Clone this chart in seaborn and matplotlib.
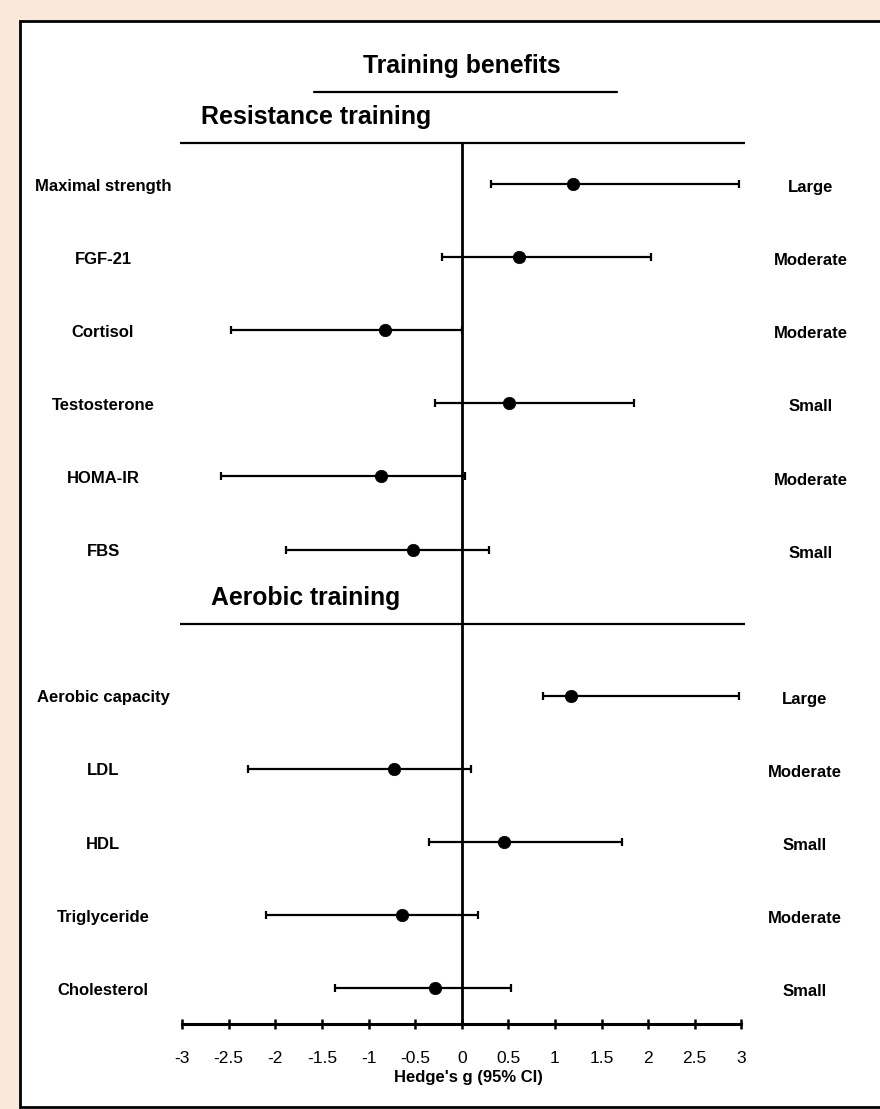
import numpy as np
import pandas as pd
import matplotlib
matplotlib.use("Agg")
import matplotlib.pyplot as plt
from matplotlib.patches import Rectangle
from matplotlib.lines import Line2D
import seaborn as sns

# values (Hedge's g with 95% CI)
res_labels = ["Maximal strength", "FGF-21", "Cortisol", "Testosterone", "HOMA-IR", "FBS"]
res_g = [1.19, 0.61, -0.82, 0.51, -0.87, -0.52]
res_lo = [0.31, -0.21, -2.47, -0.29, -2.58, -1.88]
res_hi = [2.98, 2.03, 0.0, 1.85, 0.04, 0.29]
res_effect = ["Large", "Moderate", "Moderate", "Small", "Moderate", "Small"]

aer_labels = ["Aerobic capacity", "LDL", "HDL", "Triglyceride", "Cholesterol"]
aer_g = [1.17, -0.73, 0.45, -0.64, -0.29]
aer_lo = [0.87, -2.29, -0.35, -2.10, -1.36]
aer_hi = [2.97, 0.10, 1.72, 0.18, 0.53]
aer_effect = ["Large", "Moderate", "Small", "Moderate", "Small"]

x_ticks = np.arange(-3, 3.01, 0.5)
tick_labels = ["-3", "-2.5", "-2", "-1.5", "-1", "-0.5", "0", "0.5", "1", "1.5", "2", "2.5", "3"]

sns.set_theme(style="white")
plt.rcParams["font.family"] = ["Liberation Sans", "DejaVu Sans"]

# one row slot per outcome, one empty slot between the two sections
res = pd.DataFrame({"label": res_labels, "g": res_g, "lo": res_lo, "hi": res_hi,
                    "effect": res_effect, "section": "res"})
aer = pd.DataFrame({"label": aer_labels, "g": aer_g, "lo": aer_lo, "hi": aer_hi,
                    "effect": aer_effect, "section": "aer"})
res["row"] = np.arange(len(res))
aer["row"] = np.arange(len(aer)) + len(res) + 1
df = pd.concat([res, aer], ignore_index=True)

W, H = 880, 1109
fig = plt.figure(figsize=(W / 100, H / 100), dpi=100)
peach = "#fae9da"
fig.patch.set_facecolor(peach)

def fx(px):
    return px / W

def fy(py):
    return 1 - py / H

# white panel with black frame
fig.patches.append(Rectangle((fx(20), fy(1107)), 1.0, fy(21) - fy(1107),
                             transform=fig.transFigure, facecolor="white",
                             edgecolor="black", linewidth=2, zorder=-1))

# axes: x pixel = 461.7 + 93.2*g ; y pixel = 184 + 73.1*row
x0, xs = 461.7, 93.2
y0, ys = 184.0, 73.1
axis_px = 1024.3
top_px = 21
ax = fig.add_axes([0, fy(axis_px), 1, fy(top_px) - fy(axis_px)])
ax.set_facecolor("none")
ax.set_xlim(-x0 / xs, (W - x0) / xs)
ax.set_ylim((axis_px - y0) / ys, (top_px - y0) / ys)

for s in ["top", "left", "right"]:
    ax.spines[s].set_visible(False)
ax.spines["bottom"].set_bounds(-3, 3)
ax.spines["bottom"].set_linewidth(2.2)
ax.spines["bottom"].set_color("black")
ax.set_xticks(x_ticks)
ax.set_xticklabels(tick_labels)
ax.set_yticks([])
ax.tick_params(axis="x", bottom=True, direction="inout", length=7.2, width=1.8,
               colors="black", labelsize=12.5, pad=15.5)

ax.set_xlabel("Hedge's g (95% CI)", fontsize=12, fontweight="bold", color="black")
ax.xaxis.set_label_coords(468 / W, -0.046)

# zero line and section lines
first_row = df["row"].min()
last_row_pos = (axis_px - y0) / ys
head_line = first_row - 0.557
aer_line = aer["row"].min() - 0.98
ax.vlines(0, head_line, last_row_pos, color="black", linewidth=2.0, zorder=2)
ax.hlines([head_line, aer_line], -3.02, 3.04, color="black", linewidth=1.6, zorder=2)

# confidence intervals and point estimates
ax.errorbar(df["g"], df["row"], xerr=[df["g"] - df["lo"], df["hi"] - df["g"]],
            fmt="none", ecolor="black", elinewidth=1.6, capsize=3, capthick=1.6, zorder=3)
sns.scatterplot(data=df, x="g", y="row", color="black", s=80, edgecolor="black",
                linewidth=0.5, zorder=4, legend=False, ax=ax)
ax.set_ylabel("")

# outcome names and effect size labels
for _, r in df.iterrows():
    ax.text((103 - x0) / xs, r["row"] + 0.03, r["label"], ha="center", va="center",
            fontsize=12, fontweight="bold", color="black")
    rx = 811 if r["section"] == "res" else 805
    ax.text((rx - x0) / xs, r["row"] + 0.05, r["effect"], ha="center", va="center",
            fontsize=12, fontweight="bold", color="black")

# headings
fig.text(fx(462), fy(66), "Training benefits", ha="center", va="center",
         fontsize=17.8, fontweight="bold", color="black")
fig.lines.append(Line2D([fx(314), fx(617)], [fy(91.7), fy(91.7)],
                        transform=fig.transFigure, color="black", linewidth=1.6))
fig.text(fx(201), fy(117), "Resistance training", ha="left", va="center",
         fontsize=18, fontweight="bold", color="black")
fig.text(fx(211), fy(598), "Aerobic training", ha="left", va="center",
         fontsize=17.8, fontweight="bold", color="black")

fig.savefig("out.png", dpi=100, facecolor=fig.get_facecolor())
